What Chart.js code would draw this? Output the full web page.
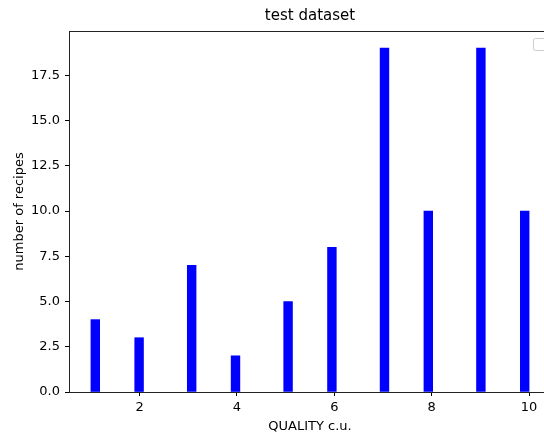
<!DOCTYPE html>
<html>
<head>
<meta charset="utf-8">
<script src="https://cdn.jsdelivr.net/npm/chart.js@4/dist/chart.umd.min.js"></script>
<style>
  html, body { margin: 0; padding: 0; background: #fff; overflow: hidden; width: 544px; height: 440px; }
  #wrap { width: 544px; height: 440px; overflow: hidden; }
  #c { display: block; }
</style>
</head>
<body>
<div id="wrap"><canvas id="c" width="600" height="440"></canvas></div>
<script>
// Data
const qualityPositions = [1.09, 1.99, 3.07, 3.97, 5.05, 5.95, 7.03, 7.93, 9.01, 9.91];
const recipeCounts = [4, 3, 7, 2, 5, 8, 19, 10, 19, 10];
const xTickValues = [2, 4, 6, 8, 10];
const yTickValues = [0, 2.5, 5, 7.5, 10, 12.5, 15, 17.5];
const xRange = [0.55, 10.45];
const yRange = [0, 19.95];
const chartTitle = 'test dataset';

const FONT = 'DejaVu Sans';

const framePlugin = {
  id: 'frame',
  afterDraw(chart) {
    const {ctx, chartArea: a} = chart;
    ctx.save();
    ctx.strokeStyle = '#222';
    ctx.lineWidth = 1;
    // top spine (right spine lies outside the visible page)
    const ty = Math.round(a.top) + 0.5;
    ctx.beginPath();
    ctx.moveTo(Math.round(a.left), ty);
    ctx.lineTo(Math.round(a.right) + 1, ty);
    ctx.stroke();
    // empty legend frame (upper right)
    const w = 13, h = 12, r = 2;
    const x = a.right - 18 + 0.5, y = a.top + 7 + 0.5;
    ctx.strokeStyle = '#cccccc';
    ctx.fillStyle = 'rgba(255,255,255,0.8)';
    ctx.beginPath();
    ctx.moveTo(x + r, y);
    ctx.lineTo(x + w - r, y); ctx.quadraticCurveTo(x + w, y, x + w, y + r);
    ctx.lineTo(x + w, y + h - r); ctx.quadraticCurveTo(x + w, y + h, x + w - r, y + h);
    ctx.lineTo(x + r, y + h); ctx.quadraticCurveTo(x, y + h, x, y + h - r);
    ctx.lineTo(x, y + r); ctx.quadraticCurveTo(x, y, x + r, y);
    ctx.closePath();
    ctx.fill(); ctx.stroke();
    // title centred over the axes box
    ctx.fillStyle = '#000';
    ctx.font = '15px "' + FONT + '"';
    ctx.textAlign = 'center';
    ctx.textBaseline = 'middle';
    ctx.fillText(chartTitle, (a.left + a.right) / 2, 16);
    ctx.restore();
  }
};

new Chart(document.getElementById('c'), {
  type: 'bar',
  data: {
    datasets: [{
      data: qualityPositions.map((q, i) => ({x: q, y: recipeCounts[i]})),
      backgroundColor: '#0000ff',
      borderWidth: 0,
      barThickness: 8.75
    }]
  },
  options: {
    responsive: false,
    animation: false,
    layout: { padding: { left: 0, right: 49, top: 31, bottom: 0 } },
    plugins: {
      legend: { display: false },
      tooltip: { enabled: false },
      title: { display: false }
    },
    scales: {
      x: {
        type: 'linear',
        offset: false,
        min: xRange[0], max: xRange[1],
        afterBuildTicks: s => { s.ticks = xTickValues.map(v => ({value: v})); },
        afterFit: s => { s.height = 48; },
        grid: { display: true, offset: false, drawOnChartArea: false, drawTicks: true, tickLength: 4, color: '#000', tickColor: '#000' },
        border: { display: true, color: '#222' },
        ticks: { color: '#000', padding: 4, maxRotation: 0, font: { family: FONT, size: 13 },
                 callback: v => String(v) },
        title: { display: true, text: 'QUALITY c.u.', color: '#000', font: { family: FONT, size: 13 }, padding: { top: 0, bottom: 6 } }
      },
      y: {
        type: 'linear',
        min: yRange[0], max: yRange[1],
        afterBuildTicks: s => { s.ticks = yTickValues.map(v => ({value: v})); },
        afterFit: s => { s.width = 69; },
        grid: { display: true, offset: false, drawOnChartArea: false, drawTicks: true, tickLength: 4, color: '#000', tickColor: '#000' },
        border: { display: true, color: '#222' },
        ticks: { color: '#000', padding: 5, font: { family: FONT, size: 13 },
                 callback: v => Number(v).toFixed(1) },
        title: { display: true, text: 'number of recipes', color: '#000', font: { family: FONT, size: 13 }, padding: { top: 12, bottom: 0 } }
      }
    }
  },
  plugins: [framePlugin]
});
</script>
</body>
</html>
